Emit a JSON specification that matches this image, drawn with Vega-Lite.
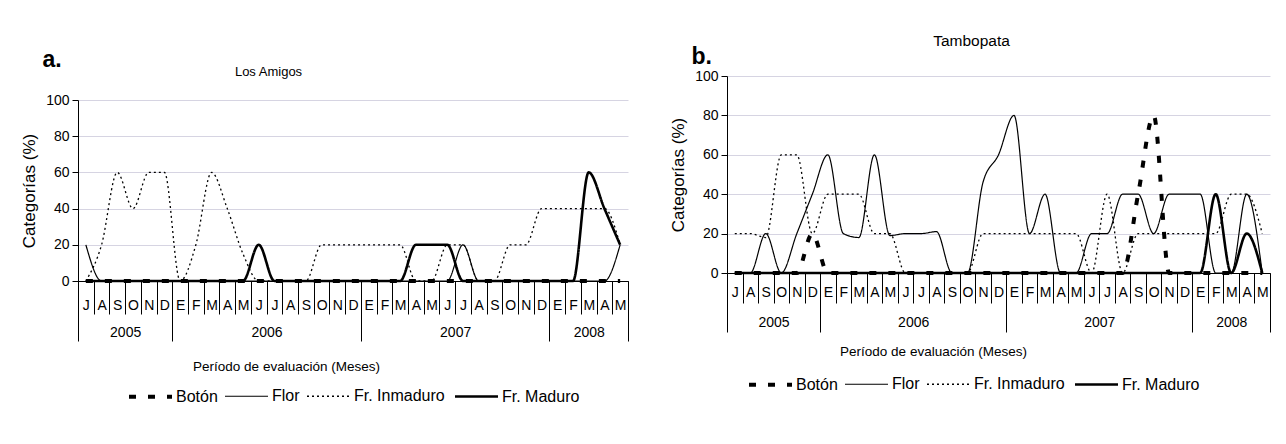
{
  "$schema": "https://vega.github.io/schema/vega-lite/v6.json",
  "padding": {"left": 20, "top": 33, "right": 5, "bottom": 5},
  "background": "white",
  "spacing": 40,
  "datasets": {
    "amigos": [
      {"mes": 0, "Botón": 0, "Flor": 20, "Fr. Inmaduro": 0, "Fr. Maduro": 0},
      {"mes": 1, "Botón": 0, "Flor": 0, "Fr. Inmaduro": 20, "Fr. Maduro": 0},
      {"mes": 2, "Botón": 0, "Flor": 0, "Fr. Inmaduro": 60, "Fr. Maduro": 0},
      {"mes": 3, "Botón": 0, "Flor": 0, "Fr. Inmaduro": 40, "Fr. Maduro": 0},
      {"mes": 4, "Botón": 0, "Flor": 0, "Fr. Inmaduro": 60, "Fr. Maduro": 0},
      {"mes": 5, "Botón": 0, "Flor": 0, "Fr. Inmaduro": 60, "Fr. Maduro": 0},
      {"mes": 6, "Botón": 0, "Flor": 0, "Fr. Inmaduro": 0, "Fr. Maduro": 0},
      {"mes": 7, "Botón": 0, "Flor": 0, "Fr. Inmaduro": 20, "Fr. Maduro": 0},
      {"mes": 8, "Botón": 0, "Flor": 0, "Fr. Inmaduro": 60, "Fr. Maduro": 0},
      {"mes": 9, "Botón": 0, "Flor": 0, "Fr. Inmaduro": 40, "Fr. Maduro": 0},
      {"mes": 10, "Botón": 0, "Flor": 0, "Fr. Inmaduro": 15, "Fr. Maduro": 0},
      {"mes": 11, "Botón": 0, "Flor": 0, "Fr. Inmaduro": 0, "Fr. Maduro": 20},
      {"mes": 12, "Botón": 0, "Flor": 0, "Fr. Inmaduro": 0, "Fr. Maduro": 0},
      {"mes": 13, "Botón": 0, "Flor": 0, "Fr. Inmaduro": 0, "Fr. Maduro": 0},
      {"mes": 14, "Botón": 0, "Flor": 0, "Fr. Inmaduro": 0, "Fr. Maduro": 0},
      {"mes": 15, "Botón": 0, "Flor": 0, "Fr. Inmaduro": 20, "Fr. Maduro": 0},
      {"mes": 16, "Botón": 0, "Flor": 0, "Fr. Inmaduro": 20, "Fr. Maduro": 0},
      {"mes": 17, "Botón": 0, "Flor": 0, "Fr. Inmaduro": 20, "Fr. Maduro": 0},
      {"mes": 18, "Botón": 0, "Flor": 0, "Fr. Inmaduro": 20, "Fr. Maduro": 0},
      {"mes": 19, "Botón": 0, "Flor": 0, "Fr. Inmaduro": 20, "Fr. Maduro": 0},
      {"mes": 20, "Botón": 0, "Flor": 0, "Fr. Inmaduro": 20, "Fr. Maduro": 0},
      {"mes": 21, "Botón": 0, "Flor": 0, "Fr. Inmaduro": 0, "Fr. Maduro": 20},
      {"mes": 22, "Botón": 0, "Flor": 0, "Fr. Inmaduro": 0, "Fr. Maduro": 20},
      {"mes": 23, "Botón": 0, "Flor": 0, "Fr. Inmaduro": 20, "Fr. Maduro": 20},
      {"mes": 24, "Botón": 0, "Flor": 20, "Fr. Inmaduro": 20, "Fr. Maduro": 0},
      {"mes": 25, "Botón": 0, "Flor": 0, "Fr. Inmaduro": 0, "Fr. Maduro": 0},
      {"mes": 26, "Botón": 0, "Flor": 0, "Fr. Inmaduro": 0, "Fr. Maduro": 0},
      {"mes": 27, "Botón": 0, "Flor": 0, "Fr. Inmaduro": 20, "Fr. Maduro": 0},
      {"mes": 28, "Botón": 0, "Flor": 0, "Fr. Inmaduro": 20, "Fr. Maduro": 0},
      {"mes": 29, "Botón": 0, "Flor": 0, "Fr. Inmaduro": 40, "Fr. Maduro": 0},
      {"mes": 30, "Botón": 0, "Flor": 0, "Fr. Inmaduro": 40, "Fr. Maduro": 0},
      {"mes": 31, "Botón": 0, "Flor": 0, "Fr. Inmaduro": 40, "Fr. Maduro": 0},
      {"mes": 32, "Botón": 0, "Flor": 0, "Fr. Inmaduro": 40, "Fr. Maduro": 60},
      {"mes": 33, "Botón": 0, "Flor": 0, "Fr. Inmaduro": 40, "Fr. Maduro": 40},
      {"mes": 34, "Botón": 0, "Flor": 20, "Fr. Inmaduro": 20, "Fr. Maduro": 20}
    ],
    "tambopata": [
      {"mes": 0, "Botón": 0, "Flor": 0, "Fr. Inmaduro": 20, "Fr. Maduro": 0},
      {"mes": 1, "Botón": 0, "Flor": 0, "Fr. Inmaduro": 20, "Fr. Maduro": 0},
      {"mes": 2, "Botón": 0, "Flor": 20, "Fr. Inmaduro": 18, "Fr. Maduro": 0},
      {"mes": 3, "Botón": 0, "Flor": 0, "Fr. Inmaduro": 60, "Fr. Maduro": 0},
      {"mes": 4, "Botón": 0, "Flor": 20, "Fr. Inmaduro": 60, "Fr. Maduro": 0},
      {"mes": 5, "Botón": 20, "Flor": 40, "Fr. Inmaduro": 20, "Fr. Maduro": 0},
      {"mes": 6, "Botón": 0, "Flor": 60, "Fr. Inmaduro": 40, "Fr. Maduro": 0},
      {"mes": 7, "Botón": 0, "Flor": 20, "Fr. Inmaduro": 40, "Fr. Maduro": 0},
      {"mes": 8, "Botón": 0, "Flor": 18, "Fr. Inmaduro": 40, "Fr. Maduro": 0},
      {"mes": 9, "Botón": 0, "Flor": 60, "Fr. Inmaduro": 20, "Fr. Maduro": 0},
      {"mes": 10, "Botón": 0, "Flor": 19, "Fr. Inmaduro": 20, "Fr. Maduro": 0},
      {"mes": 11, "Botón": 0, "Flor": 20, "Fr. Inmaduro": 0, "Fr. Maduro": 0},
      {"mes": 12, "Botón": 0, "Flor": 20, "Fr. Inmaduro": 0, "Fr. Maduro": 0},
      {"mes": 13, "Botón": 0, "Flor": 21, "Fr. Inmaduro": 0, "Fr. Maduro": 0},
      {"mes": 14, "Botón": 0, "Flor": 0, "Fr. Inmaduro": 0, "Fr. Maduro": 0},
      {"mes": 15, "Botón": 0, "Flor": 0, "Fr. Inmaduro": 0, "Fr. Maduro": 0},
      {"mes": 16, "Botón": 0, "Flor": 46, "Fr. Inmaduro": 20, "Fr. Maduro": 0},
      {"mes": 17, "Botón": 0, "Flor": 60, "Fr. Inmaduro": 20, "Fr. Maduro": 0},
      {"mes": 18, "Botón": 0, "Flor": 80, "Fr. Inmaduro": 20, "Fr. Maduro": 0},
      {"mes": 19, "Botón": 0, "Flor": 20, "Fr. Inmaduro": 20, "Fr. Maduro": 0},
      {"mes": 20, "Botón": 0, "Flor": 40, "Fr. Inmaduro": 20, "Fr. Maduro": 0},
      {"mes": 21, "Botón": 0, "Flor": 0, "Fr. Inmaduro": 20, "Fr. Maduro": 0},
      {"mes": 22, "Botón": 0, "Flor": 0, "Fr. Inmaduro": 20, "Fr. Maduro": 0},
      {"mes": 23, "Botón": 0, "Flor": 20, "Fr. Inmaduro": 0, "Fr. Maduro": 0},
      {"mes": 24, "Botón": 0, "Flor": 20, "Fr. Inmaduro": 40, "Fr. Maduro": 0},
      {"mes": 25, "Botón": 0, "Flor": 40, "Fr. Inmaduro": 0, "Fr. Maduro": 0},
      {"mes": 26, "Botón": 40, "Flor": 40, "Fr. Inmaduro": 20, "Fr. Maduro": 0},
      {"mes": 27, "Botón": 80, "Flor": 20, "Fr. Inmaduro": 20, "Fr. Maduro": 0},
      {"mes": 28, "Botón": 0, "Flor": 40, "Fr. Inmaduro": 20, "Fr. Maduro": 0},
      {"mes": 29, "Botón": 0, "Flor": 40, "Fr. Inmaduro": 20, "Fr. Maduro": 0},
      {"mes": 30, "Botón": 0, "Flor": 40, "Fr. Inmaduro": 20, "Fr. Maduro": 0},
      {"mes": 31, "Botón": 0, "Flor": 0, "Fr. Inmaduro": 20, "Fr. Maduro": 40},
      {"mes": 32, "Botón": 0, "Flor": 0, "Fr. Inmaduro": 40, "Fr. Maduro": 0},
      {"mes": 33, "Botón": 0, "Flor": 40, "Fr. Inmaduro": 40, "Fr. Maduro": 20},
      {"mes": 34, "Botón": 0, "Flor": 0, "Fr. Inmaduro": 20, "Fr. Maduro": 0}
    ]
  },
  "hconcat": [
    {
      "width": 550,
      "height": 205,
      "data": {"name": "amigos"},
      "transform": [{"fold": ["Botón", "Flor", "Fr\\. Inmaduro", "Fr\\. Maduro"], "as": ["serie", "valor"]}],
      "encoding": {
        "y": {"field": "valor", "type": "quantitative",
          "scale": {"domain": [0, 100], "rangeMax": 24},
          "axis": {"values": [0, 20, 40, 60, 80, 100], "title": "Categorías (%)"}}
      },
      "layer": [
        {
          "mark": {"type": "line", "interpolate": "monotone", "color": "#000"},
          "encoding": {
            "x": {"field": "mes", "type": "quantitative",
              "scale": {"domain": [-0.5, 34.5], "nice": false, "zero": false},
              "axis": {"orient": "bottom", "values": [0,1,2,3,4,5,6,7,8,9,10,11,12,13,14,15,16,17,18,19,20,21,22,23,24,25,26,27,28,29,30,31,32,33,34],
                "labelExpr": "['J','A','S','O','N','D','E','F','M','A','M','J'][datum.value % 12]",
                "ticks": false, "tickSize": 0, "domain": true, "grid": false, "labelPadding": 24, "labelBaseline": "middle",
                "labelOverlap": false, "labelFlush": false,
                "title": "Los Amigos", "titleX": 190, "titleY": -206, "titleFontSize": 13, "titleBaseline": "alphabetic", "titleAlign": "center", "titleAngle": 0}},
            "strokeDash": {"field": "serie", "type": "nominal",
              "scale": {"domain": ["Botón", "Flor", "Fr. Inmaduro", "Fr. Maduro"], "range": [[7, 12], [1, 0], [2, 3], [1, 0]]},
              "legend": {"legendX": 49, "legendY": 297}},
            "strokeWidth": {"field": "serie", "type": "nominal",
              "scale": {"type": "ordinal", "domain": ["Botón", "Flor", "Fr. Inmaduro", "Fr. Maduro"], "range": [4, 1.2, 1.3, 2.6]},
              "legend": {"legendX": 49, "legendY": 297}}
          }
        },
        {
          "mark": {"type": "point", "opacity": 0},
          "encoding": {
            "x": {"field": "mes", "type": "quantitative",
              "scale": {"domain": [-0.5, 34.5], "nice": false, "zero": false},
              "axis": {"orient": "bottom", "values": [-0.5,0.5,1.5,2.5,3.5,4.5,5.5,6.5,7.5,8.5,9.5,10.5,11.5,12.5,13.5,14.5,15.5,16.5,17.5,18.5,19.5,20.5,21.5,22.5,23.5,24.5,25.5,26.5,27.5,28.5,29.5,30.5,31.5,32.5,33.5,34.5],
                "labels": false, "domain": false, "ticks": true, "tickSize": 33, "grid": false, "title": null}}
          }
        },
        {
          "mark": {"type": "point", "opacity": 0},
          "encoding": {
            "x": {"field": "mes", "type": "quantitative",
              "scale": {"domain": [-0.5, 34.5], "nice": false, "zero": false},
              "axis": {"orient": "bottom", "values": [2.5, 11.5, 23.5, 32],
                "labelExpr": "datum.value < 6 ? '2005' : datum.value < 18 ? '2006' : datum.value < 30 ? '2007' : '2008'",
                "ticks": false, "tickSize": 0, "domain": false, "grid": false, "labelPadding": 51, "labelBaseline": "middle",
                "labelOverlap": false, "labelFlush": false,
                "title": "a.", "titleX": -36, "titleY": -215, "titleFontSize": 23, "titleFontWeight": "bold", "titleBaseline": "alphabetic", "titleAlign": "left", "titleAngle": 0}}
          }
        },
        {
          "mark": {"type": "point", "opacity": 0},
          "encoding": {
            "x": {"field": "mes", "type": "quantitative",
              "scale": {"domain": [-0.5, 34.5], "nice": false, "zero": false},
              "axis": {"orient": "bottom", "values": [-0.5, 5.5, 17.5, 29.5, 34.5],
                "labels": false, "domain": false, "ticks": true, "tickSize": 60, "grid": false,
                "title": "Período de evaluación (Meses)", "titleX": 208, "titleY": 85, "titleFontSize": 13.5, "titleBaseline": "middle", "titleAlign": "center", "titleAngle": 0}}
          }
        }
      ],
      "resolve": {"axis": {"x": "independent"}}
    },
    {
      "width": 543,
      "height": 197,
      "data": {"name": "tambopata"},
      "transform": [{"fold": ["Botón", "Flor", "Fr\\. Inmaduro", "Fr\\. Maduro"], "as": ["serie", "valor"]}],
      "encoding": {
        "y": {"field": "valor", "type": "quantitative",
          "scale": {"domain": [0, 100]},
          "axis": {"values": [0, 20, 40, 60, 80, 100], "title": "Categorías (%)"}}
      },
      "layer": [
        {
          "mark": {"type": "line", "interpolate": "monotone", "color": "#000"},
          "encoding": {
            "x": {"field": "mes", "type": "quantitative",
              "scale": {"domain": [-0.5, 34.5], "nice": false, "zero": false},
              "axis": {"orient": "bottom", "values": [0,1,2,3,4,5,6,7,8,9,10,11,12,13,14,15,16,17,18,19,20,21,22,23,24,25,26,27,28,29,30,31,32,33,34],
                "labelExpr": "['J','A','S','O','N','D','E','F','M','A','M','J'][datum.value % 12]",
                "ticks": false, "tickSize": 0, "domain": true, "grid": false, "labelPadding": 19, "labelBaseline": "middle",
                "labelOverlap": false, "labelFlush": false,
                "title": "Tambopata", "titleX": 244, "titleY": -228, "titleFontSize": 15.5, "titleBaseline": "alphabetic", "titleAlign": "center", "titleAngle": 0}},
            "strokeDash": {"field": "serie", "type": "nominal",
              "scale": {"domain": ["Botón", "Flor", "Fr. Inmaduro", "Fr. Maduro"], "range": [[7, 12], [1, 0], [2, 3], [1, 0]]},
              "legend": {"legendX": 20, "legendY": 285}},
            "strokeWidth": {"field": "serie", "type": "nominal",
              "scale": {"type": "ordinal", "domain": ["Botón", "Flor", "Fr. Inmaduro", "Fr. Maduro"], "range": [4, 1.2, 1.3, 2.6]},
              "legend": {"legendX": 20, "legendY": 285}}
          }
        },
        {
          "mark": {"type": "point", "opacity": 0},
          "encoding": {
            "x": {"field": "mes", "type": "quantitative",
              "scale": {"domain": [-0.5, 34.5], "nice": false, "zero": false},
              "axis": {"orient": "bottom", "values": [-0.5,0.5,1.5,2.5,3.5,4.5,5.5,6.5,7.5,8.5,9.5,10.5,11.5,12.5,13.5,14.5,15.5,16.5,17.5,18.5,19.5,20.5,21.5,22.5,23.5,24.5,25.5,26.5,27.5,28.5,29.5,30.5,31.5,32.5,33.5,34.5],
                "labels": false, "domain": false, "ticks": true, "tickSize": 30, "grid": false, "title": null}}
          }
        },
        {
          "mark": {"type": "point", "opacity": 0},
          "encoding": {
            "x": {"field": "mes", "type": "quantitative",
              "scale": {"domain": [-0.5, 34.5], "nice": false, "zero": false},
              "axis": {"orient": "bottom", "values": [2.5, 11.5, 23.5, 32],
                "labelExpr": "datum.value < 6 ? '2005' : datum.value < 18 ? '2006' : datum.value < 30 ? '2007' : '2008'",
                "ticks": false, "tickSize": 0, "domain": false, "grid": false, "labelPadding": 49, "labelBaseline": "middle",
                "labelOverlap": false, "labelFlush": false,
                "title": "b.", "titleX": -36, "titleY": -210, "titleFontSize": 23, "titleFontWeight": "bold", "titleBaseline": "alphabetic", "titleAlign": "left", "titleAngle": 0}}
          }
        },
        {
          "mark": {"type": "point", "opacity": 0},
          "encoding": {
            "x": {"field": "mes", "type": "quantitative",
              "scale": {"domain": [-0.5, 34.5], "nice": false, "zero": false},
              "axis": {"orient": "bottom", "values": [-0.5, 5.5, 17.5, 29.5, 34.5],
                "labels": false, "domain": false, "ticks": true, "tickSize": 59, "grid": false,
                "title": "Período de evaluación (Meses)", "titleX": 206, "titleY": 78, "titleFontSize": 13.5, "titleBaseline": "middle", "titleAlign": "center", "titleAngle": 0}}
          }
        }
      ],
      "resolve": {"axis": {"x": "independent"}}
    }
  ],
  "resolve": {
    "scale": {"strokeDash": "independent", "strokeWidth": "independent"},
    "legend": {"strokeDash": "independent", "strokeWidth": "independent"}
  },
  "config": {
    "font": "Liberation Sans",
    "view": {"stroke": null},
    "axis": {
      "labelFont": "Liberation Sans", "titleFont": "Liberation Sans",
      "labelColor": "#000", "titleColor": "#000", "titleFontWeight": "normal",
      "labelFontSize": 14, "domainColor": "#000", "tickColor": "#000",
      "domainWidth": 1, "tickWidth": 1
    },
    "axisY": {
      "grid": true, "gridColor": "#d6d4e2", "gridWidth": 1, "tickSize": 6, "labelPadding": 3,
      "titleFontSize": 17, "titlePadding": 7
    },
    "legend": {
      "orient": "none", "direction": "horizontal", "columns": 4, "title": null,
      "symbolType": "stroke", "symbolSize": 1849, "symbolStrokeColor": "#000",
      "labelFont": "Liberation Sans", "labelFontSize": 16, "labelColor": "#000",
      "labelOffset": 2, "columnPadding": 4, "padding": 0
    }
  }
}
